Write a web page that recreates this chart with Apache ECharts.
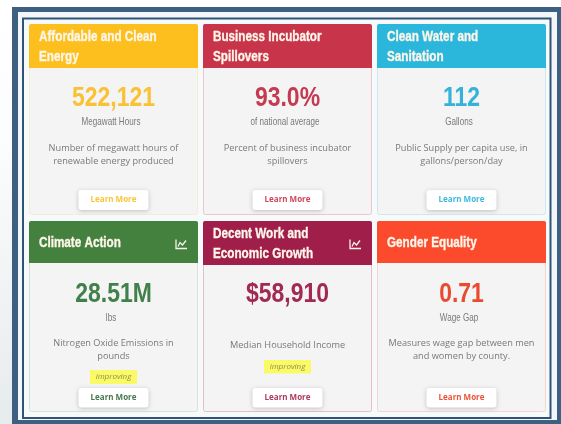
<!DOCTYPE html>
<html><head><meta charset="utf-8">
<style>html,body{margin:0;padding:0;background:#fff}#c{width:561px;height:424px;filter:blur(0.6px)}</style>
<script src="https://cdn.jsdelivr.net/npm/echarts@6/dist/echarts.min.js"></script>
</head><body><div id="c"></div>
<script>
const titles=["Affordable and Clean\nEnergy","Business Incubator\nSpillovers","Clean Water and\nSanitation","Climate Action","Decent Work and\nEconomic Growth","Gender Equality"];
const values=["522,121","93.0%","112","28.51M","$58,910","0.71"];
const units=["Megawatt Hours","of national average","Gallons","lbs","","Wage Gap"];
const descriptions=["Number of megawatt hours of\nrenewable energy produced","Percent of business incubator\nspillovers","Public Supply per capita use, in\ngallons/person/day","Nitrogen Oxide Emissions in\npounds","Median Household Income","Measures wage gap between men\nand women by county."];
const statuses=["","","","improving","improving",""];
const colors=["#fdbf1e","#c8344a","#2bb6dc","#44813f","#a01f4a","#fb4a2c"];
const valueColors=["#f9c133","#c43a50","#35b2d8","#41804a","#a22a50","#ea4a2e"];
const borders=["#f6ecd6","#edc6cd","#cfe8ef","#d5e2d8","#e6bdca","#f6d5cf"];
const buttonLabel="Learn More";
const buttonColors=["#fcc437","#d0465c","#3fb8dd","#47784f","#ad3a5c","#ee5234"];
const hasIcon=[false,false,false,true,true,false];

const colX=[29,203,377],cardW=169;
const el=[];
function txt(text,x,y,font,fill,align,scaleX,lineHeight,stroke){
  el.push({type:'text',x,y,scaleX:scaleX||1,style:{text,x:0,y:0,align,verticalAlign:'middle',font,fill,lineHeight,stroke:stroke||null,lineWidth:stroke?.35:0}});
}
el.push({type:'rect',shape:{x:0,y:0,width:12,height:424},style:{fill:new echarts.graphic.LinearGradient(0,0,0,1,[{offset:0,color:'#ffffff'},{offset:.35,color:'#fbfcfc'},{offset:1,color:'#e6ebee'}])}});
el.push({type:'rect',shape:{x:12,y:7,width:549,height:417},style:{fill:'#3c5f82'}});
el.push({type:'rect',shape:{x:18,y:12,width:539,height:408},style:{fill:'#f4f7f9'}});
el.push({type:'rect',shape:{x:23,y:18.5,width:527.5,height:399.5},style:{fill:'#f7fafb',stroke:'#2f5478',lineWidth:2}});

function card(i){
  const col=i%3,row=i<3?0:1,x=colX[col],cx=x+cardW/2,c=colors[i];
  const top=row?221:24,bottom=row?412:215;
  const hdrH=row?(i===4?44:42):44;
  el.push({type:'rect',shape:{x:x+.5,y:top+.5,width:cardW-1,height:bottom-top-1,r:2},style:{fill:'#f4f4f5',stroke:borders[i],lineWidth:1}});
  el.push({type:'rect',shape:{x,y:top,width:cardW,height:hdrH,r:[2,2,0,0]},style:{fill:c}});
  txt(titles[i],x+10,top+hdrH/2+1,'bold 15px "Liberation Sans"','#fdf6ea','left',.78,20,'#fdf6ea');
  txt(values[i],cx,row?294.5:98.5,'bold 28px "Liberation Sans"',valueColors[i],'center',.82);
  if(units[i]) txt(units[i],cx-2.5,row?318:122,'10.5px "Liberation Sans"','#77797c','center',.77);
  const descY=row?(descriptions[i].includes("\n")?350:345):155;
  txt(descriptions[i],cx,descY,'9.2px "Open Sans"','#77797c','center',1,13);
  if(statuses[i]){
    const sy=i===4?360:370,sh=i===4?13.5:14;
    el.push({type:'rect',shape:{x:cx-23.5,y:sy,width:47,height:sh},style:{fill:'#fafa66'}});
    txt(statuses[i],cx,sy+sh/2,'italic 8px "Open Sans"','#8f8f55','center');
  }
  const by=row?388:190,bh=row?19.5:20;
  el.push({type:'rect',shape:{x:cx-35,y:by,width:70,height:bh,r:3},style:{fill:'#fff',shadowBlur:4,shadowColor:'rgba(0,0,0,.22)',shadowOffsetY:1}});
  txt(buttonLabel,cx,by+bh/2,'bold 8px "Open Sans"',buttonColors[i],'center');
  if(hasIcon[i]){
    const ix=x+147,iy=239.5;
    el.push({type:'polyline',shape:{points:[[ix,iy],[ix,iy+9],[ix+11,iy+9]]},style:{stroke:'#f5f5ea',lineWidth:1.3,fill:null}});
    el.push({type:'polyline',shape:{points:[[ix+2,iy+7],[ix+4,iy+3],[ix+6.5,iy+5.5],[ix+10,iy+1]]},style:{stroke:'#f5f5ea',lineWidth:1.3,fill:null}});
  }
}
for(let i=0;i<titles.length;i++)card(i);
const chart=echarts.init(document.getElementById('c'),null,{renderer:'canvas'});
chart.setOption({animation:false,graphic:{elements:el}});
</script></body></html>
